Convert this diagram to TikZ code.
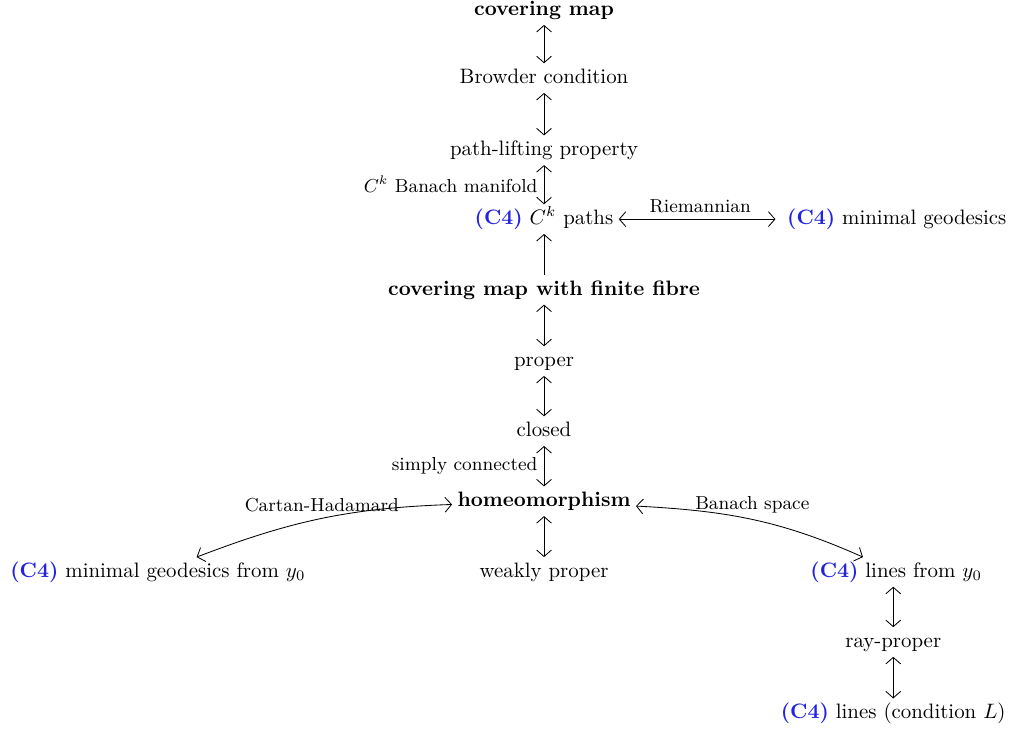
\documentclass[tikz,border=0pt]{standalone}
\usepackage{amsmath,amssymb}
\usetikzlibrary{arrows.meta, positioning}
\definecolor{tagblue}{RGB}{35,35,225}
\newcommand{\ctag}{\textcolor{tagblue}{\textbf{(C4)}}}
\tikzset{
  dgm/.style={>={Straight Barb[length=1.1mm, width=2.5mm]}, thin},
  prop/.style={inner sep=2.4pt, text height=7pt, text depth=2pt},
  key/.style={prop, font=\bfseries},
  lbl/.style={font=\small, inner sep=3pt},
  eq/.style={<->},
  ar/.style={->}
}
\begin{document}
\begin{tikzpicture}[dgm]
    \useasboundingbox (0,0) rectangle (17.09,12.31);

    \node[key]  (cov)   at (9.16,12.14) {covering map};
    \node[prop] (brow)  at (9.16,10.995) {Browder condition};
    \node[prop] (lift)  at (9.16,9.78) {path-lifting property};
    \node[prop] (ckp)   at (9.16,8.62) {\ctag{} $C^k$ paths};
    \node[prop] (mgeo)  at (15.10,8.62) {\ctag{} minimal geodesics};
    \node[key]  (fin)   at (9.16,7.43) {covering map with finite fibre};
    \node[prop] (prp)   at (9.16,6.23) {proper};
    \node[prop] (cls)   at (9.16,5.05) {closed};
    \node[key]  (homeo) at (9.16,3.87) {homeomorphism};
    \node[prop] (wprp)  at (9.16,2.68) {weakly proper};
    \node[prop] (mgy)   at (2.66,2.68) {\ctag{} minimal geodesics from $y_0$};
    \node[prop] (liny)  at (15.09,2.68) {\ctag{} lines from $y_0$};
    \node[prop] (ray)   at (15.04,1.50) {ray-proper};
    \node[prop] (linL)  at (15.04,0.30) {\ctag{} lines (condition $L$)};

    \draw[eq] (cov) -- (brow);
    \draw[eq] (brow) -- (lift);
    \draw[eq] (lift) -- node[lbl, left] {$C^k$ Banach manifold} (ckp);
    \draw[eq, shorten >=3pt] (ckp) -- node[lbl, above] {Riemannian} (mgeo);
    \draw[ar] (fin) -- (ckp);
    \draw[eq] (fin) -- (prp);
    \draw[eq] (prp) -- (cls);
    \draw[eq] (cls) -- node[lbl, left] {simply connected} (homeo);
    \draw[eq] (homeo) -- (wprp);
    \draw[eq] (homeo) to[out=182, in=21] node[lbl, above] {Cartan-Hadamard} (mgy);
    \draw[eq] (homeo) to[out=-3, in=156] node[lbl, above] {Banach space} (liny);
    \draw[eq] (liny.south -| ray.north) -- (ray.north);
    \draw[eq] (ray) -- (linL);
\end{tikzpicture}
\end{document}
